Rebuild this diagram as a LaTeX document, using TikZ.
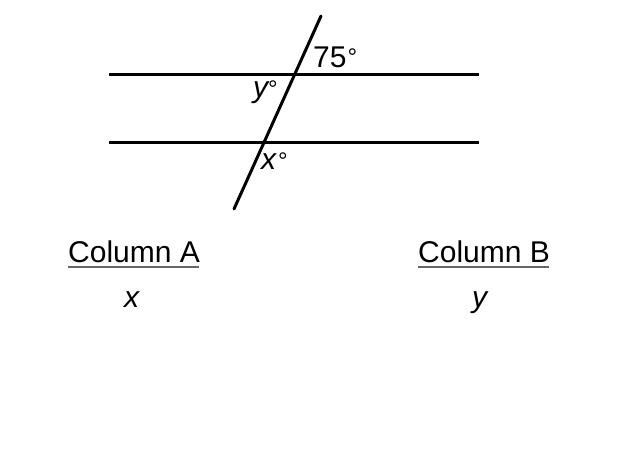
\documentclass[tikz,border=0pt]{standalone}
\usepackage{fontspec}
\setmainfont{Liberation Sans}
\newcommand\degmark[1]{\raisebox{#1}{\fontsize{24}{24}\selectfont °}}
\begin{document}
\begin{tikzpicture}[x=1pt,y=-1pt,
  geoline/.style={line width=3pt,black},
  lbl/.style={anchor=base west,inner sep=0pt,font=\fontsize{30}{33}\selectfont},
  col/.style={anchor=base west,inner sep=0pt,font=\fontsize{30}{34}\selectfont},
  uline/.style={line width=2.2pt,black!60}]
\useasboundingbox (0,0) rectangle (620,464);
\coordinate (L1a) at (109,74);
\coordinate (L1b) at (479,74);
\coordinate (L2a) at (109,142);
\coordinate (L2b) at (479,142);
\coordinate (Ta) at (321,16);
\coordinate (Tb) at (234,209);
\draw[geoline] (L1a) -- (L1b);
\draw[geoline] (L2a) -- (L2b);
\draw[geoline,line cap=round] (Ta) -- (Tb);
\node[lbl] (a75) at (313,67) {75\kern1pt\degmark{2pt}};
\node[lbl] (ay) at (253,97) {\itshape y\upshape\degmark{0pt}};
\node[lbl] (ax) at (261,169) {\itshape x\upshape\kern2pt\degmark{0pt}};
\node[col] (colA) at (68,262) {Column A};
\node[col] (colB) at (418,262) {Column B};
\coordinate (uA1) at (68,267);
\coordinate (uA2) at (199,267);
\coordinate (uB1) at (418,267);
\coordinate (uB2) at (549,267);
\draw[uline] (uA1) -- (uA2);
\draw[uline] (uB1) -- (uB2);
\node[col] (vx) at (124,307) {\itshape x};
\node[col] (vy) at (472,307) {\itshape y};
\end{tikzpicture}
\end{document}
